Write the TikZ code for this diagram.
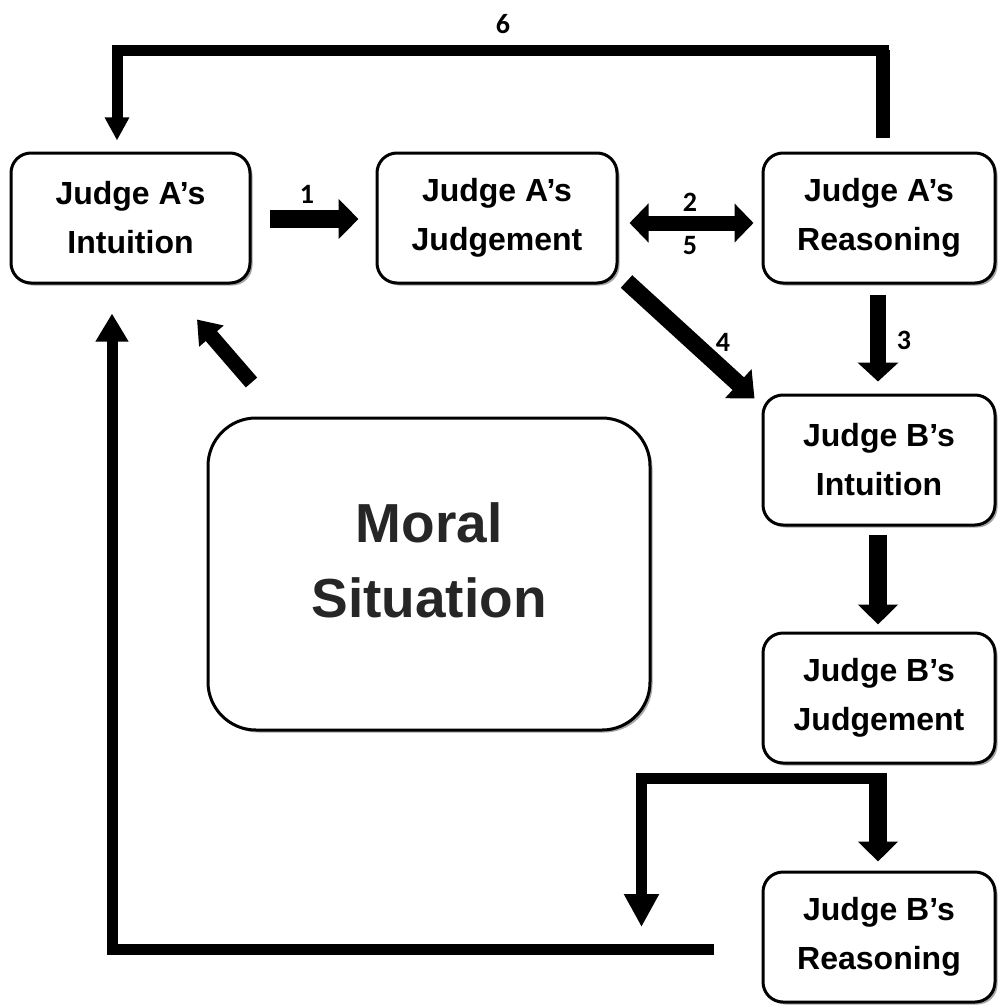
\documentclass[tikz,border=0pt]{standalone}
\usepackage{fontspec}
\setmainfont{Liberation Sans}
\newfontfamily\numfont{Carlito}
\usetikzlibrary{arrows.meta,calc,shadows}
\begin{document}
\begin{tikzpicture}[x=1pt,y=-1pt,
  box/.style={draw, line width=3pt, rounded corners=20pt, fill=white,
    minimum width=239pt, minimum height=130pt, align=center, inner sep=0pt,
    font=\fontsize{32}{49}\selectfont\bfseries,
    drop shadow={shadow xshift=2.5pt, shadow yshift=-2.5pt, opacity=0.35, fill=black}},
  bigbox/.style={box, rounded corners=48pt, minimum width=442pt, minimum height=312pt,
    font=\fontsize{55}{75}\selectfont\bfseries, text=black!85},
  num/.style={font=\numfont\fontsize{28}{30}\selectfont\bfseries, inner sep=0pt},
  fat/.style={line width=18pt, -{Triangle[length=20pt,width=39pt]}},
  thin/.style={line width=11pt, line join=miter, line cap=butt}
]
\path[use as bounding box] (0,0) rectangle (997,1006);

\node[box] (aI) at (130.5,218) {Judge A’s\\Intuition};
\node[box, minimum width=240pt] (aJ) at (497,218) {Judge A’s\\Judgement};
\node[box, minimum width=232pt] (aR) at (879,218) {Judge A’s\\Reasoning};
\node[box, minimum width=232pt] (bI) at (879,460) {Judge B’s\\Intuition};
\node[box, minimum width=232pt] (bJ) at (879,698) {Judge B’s\\Judgement};
\node[box, minimum width=232pt] (bR) at (879,937) {Judge B’s\\Reasoning};
\node[bigbox] (ms) at (429,574) {Moral\\Situation\\[-47pt]\mbox{}};

% 1
\draw[fat] ($(aI.east)+(18,1)$) -- ($(aJ.west)+(-17,1)$);
\node[num] (n1) at (307,194) {1};
% 2/5
\draw[line width=15pt, {Triangle[length=19pt,width=38pt]}-{Triangle[length=19pt,width=38pt]}]
  ($(aJ.east)+(11,5)$) -- ($(aR.west)+(-8,5)$);
\node[num] (n2) at (690,202) {2};
\node[num] (n5) at (690,246) {5};
% 3
\draw[line width=16pt, -{Triangle[length=19pt,width=40pt]}] ($(aR.south)+(-1,10)$) -- ($(bI.north)+(-1,-12)$);
\node[num] (n3) at (904,340) {3};
% 4
\draw[line width=17pt, -{Triangle[length=22pt,width=38pt]}] ($(aJ.south east)+(8,-3)$) -- ($(bI.north west)+(-7,5)$);
\node[num] (n4) at (723,342) {4};
% moral -> A intuition
\draw[line width=15pt, -{Triangle[length=22pt,width=31pt]}] ($(ms.north west)+(45,-34)$) -- ($(aI.south)+(66.5,35)$);
% 6
\draw[thin, -{Triangle[length=23pt,width=23pt]}] ($(aR.north)+(4,-13)$) -- ++(0,-88) -| ($(aI.north)+(-13.5,-11)$);
\draw[line width=14pt] ($(aR.north)+(4,-13)$) -- ++(0,-88);
\node[num] (n6) at (503,24) {6};
% B intuition -> B judgement
\draw[fat] ($(bI.south)+(-1,8)$) -- ($(bJ.north)+(-1,-7)$);
% B judgement -> B reasoning, branch
\draw[thin, -{Triangle[length=33pt,width=33pt]}] ($(bJ.south)+(8,14)$) -| ($(bR.west)+(-120,-10)$);
\draw[fat] ($(bJ.south)+(-1,9)$) -- ($(bR.north)+(-1,-9)$);
% bottom loop
\draw[thin, -{Triangle[length=28pt,width=31pt]}] ($(bR.west)+(-48,12)$) -| ($(aI.south)+(-18.5,29)$);
\end{tikzpicture}
\end{document}
